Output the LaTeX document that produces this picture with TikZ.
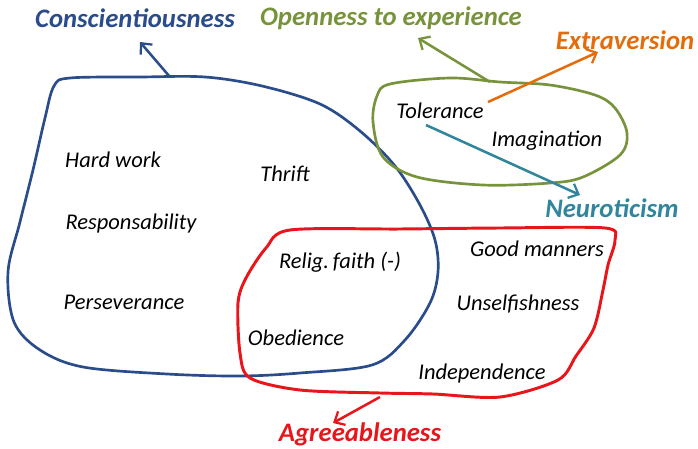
\documentclass[tikz,border=0pt]{standalone}
\usepackage{fontspec}
\setmainfont{Carlito}
\usetikzlibrary{arrows.meta}
\definecolor{consc}{HTML}{2B4C8A}
\definecolor{openn}{HTML}{77933C}
\definecolor{extra}{HTML}{E46C0A}
\definecolor{neuro}{HTML}{31859C}
\definecolor{agree}{HTML}{E8161B}

\begin{document}
\begin{tikzpicture}[x=0.025cm,y=-0.025cm,>={Straight Barb[length=6pt,width=11pt,line width=1.6pt]},
  trait/.style={font=\fontsize{16}{19}\selectfont\itshape},
  factor/.style={font=\fontsize{19}{23}\selectfont\bfseries\itshape},
  blob/.style={line width=1.9pt,line join=round},
  pointer/.style={->,line width=1.8pt}]
\useasboundingbox (0,0) rectangle (698,448);
% the five factors
\node[factor,text=consc] (consc) at (135,18) {Conscientiousness};
\node[factor,text=openn] (openn) at (391,18) {Openness to experience};
\node[factor,text=extra] (extra) at (625,40) {Extraversion};
\node[factor,text=neuro] (neuro) at (612,208) {Neuroticism};
\node[factor,text=agree] (agree) at (360,434) {Agreeableness};
% the traits
\node[trait] (hardwork) at (113,160) {Hard work};
\node[trait] (thrift) at (285,174) {Thrift};
\node[trait] (respons) at (131,223) {Responsability};
\node[trait] (persev) at (124,302) {Perseverance};
\node[trait] (faith) at (340,262) {Relig.\,faith (-)};
\node[trait] (obed) at (296,338) {Obedience};
\node[trait] (manners) at (537,249) {Good manners};
\node[trait] (unself) at (518,304) {Unselfishness};
\node[trait] (indep) at (482,373) {Independence};
\node[trait] (toler) at (440,111) {Tolerance};
\node[trait] (imag) at (547,141) {Imagination};
% hand drawn sets
\draw[blob,consc] plot[smooth cycle,tension=0.55] coordinates {(70,78) (140,77) (205,77)
  (262,86) (320,104) (360,131) (395,166) (420,205) (435,240) (438,272) (430,303)
  (405,340) (372,365) (300,373) (240,376) (167,374) (83,367) (40,350) (14,322)
  (8,272) (20,222) (33,170) (45,118) (54,86)};
\draw[blob,agree,line width=2.1pt] plot[smooth cycle,tension=0.5] coordinates {(290,230)
  (400,229) (500,228) (605,228) (615,240) (608,265) (603,290) (594,328) (576,356)
  (558,380) (500,397) (433,394) (380,393) (300,390) (250,378) (240,353) (238,303)
  (246,278) (266,248)};
\draw[blob,openn] plot[smooth cycle,tension=0.55] coordinates {(390,84) (450,78)
  (500,82) (550,85) (595,95) (615,108) (627,133) (620,155) (583,177) (550,183)
  (483,185) (417,177) (383,157) (373,122) (377,96)};
% pointers to the factors
\coordinate (c1) at (170,77); \coordinate (c2) at (140,42);
\coordinate (o1) at (490,82); \coordinate (o2) at (418,38);
\coordinate (e1) at (488,102); \coordinate (e2) at (598,52);
\coordinate (n1) at (426,125); \coordinate (n2) at (580,195);
\coordinate (a1) at (380,397); \coordinate (a2) at (333,423);
\draw[pointer,consc] (c1) -- (c2);
\draw[pointer,openn] (o1) -- (o2);
\draw[pointer,extra] (e1) -- (e2);
\draw[pointer,neuro] (n1) -- (n2);
\draw[pointer,agree] (a1) -- (a2);
\end{tikzpicture}
\end{document}
